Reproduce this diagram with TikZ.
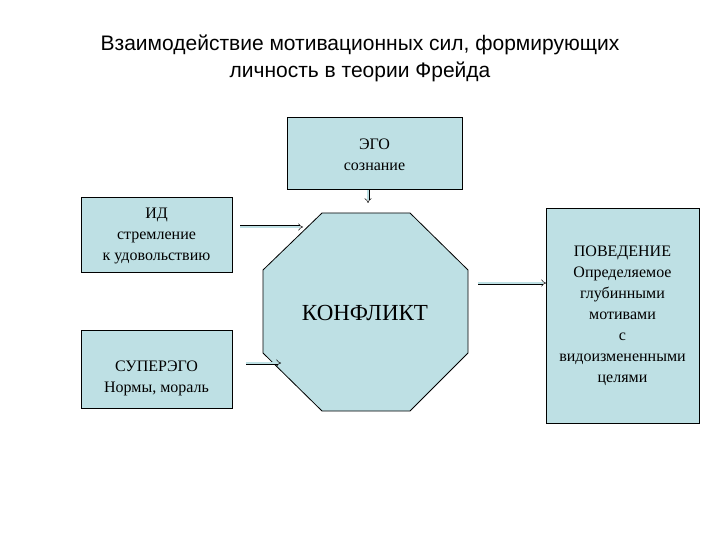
\documentclass[tikz,border=0pt]{standalone}
\usepackage{fontspec}
\setmainfont{Liberation Serif}
\newfontfamily\titlefont{Liberation Sans}
\usetikzlibrary{arrows.meta}
\definecolor{boxfill}{RGB}{190,224,228}
\begin{document}
\begin{tikzpicture}[x=1pt,y=-1pt,
  box/.style={draw,fill=boxfill,line width=0.8pt,inner sep=0pt},
  txt/.style={font=\fontsize{16}{21}\selectfont,align=center},
  dbl/.style={double=boxfill,double distance=2pt,line width=0.5pt,-Implies}]
\useasboundingbox (0,0) rectangle (720,540);
\node[font=\fontsize{21}{27}\selectfont\titlefont,align=center] (title) at (360,58) {Взаимодействие мотивационных сил, формирующих\\личность в теории Фрейда};
\draw[box] (287,117) rectangle (462,189);
\node[txt] (ego) at (374.5,155) {ЭГО\\сознание};
\draw[box] (81,197) rectangle (232,272);
\node[txt] (id) at (156.5,236) {ИД\\стремление\\к удовольствию};
\draw[box] (81,330) rectangle (232,408);
\node[txt] (super) at (156.5,378) {СУПЕРЭГО\\Нормы, мораль};
\draw[box] (546,208) rectangle (699,423);
\node[txt] (beh) at (622.5,316) {ПОВЕДЕНИЕ\\Определяемое\\глубинными\\мотивами\\с\\видоизмененными\\целями};
\draw[box] (322,213) -- (410,213) -- (468,270) -- (468,353) -- (410,411) -- (322,411) -- (263,353) -- (263,270) -- cycle;
\node[font=\fontsize{23}{27}\selectfont] (konf) at (365,313) {КОНФЛИКТ};
\coordinate (a1) at (240,227); \coordinate (b1) at (303,227);
\coordinate (a2) at (246,363); \coordinate (b2) at (281,363);
\coordinate (a3) at (368,190); \coordinate (b3) at (368,203);
\coordinate (a4) at (478,283); \coordinate (b4) at (546,283);
\draw[dbl] (a1) -- (b1);
\draw[dbl] (a2) -- (b2);
\draw[dbl] (a3) -- (b3);
\draw[dbl] (a4) -- (b4);
\end{tikzpicture}
\end{document}
